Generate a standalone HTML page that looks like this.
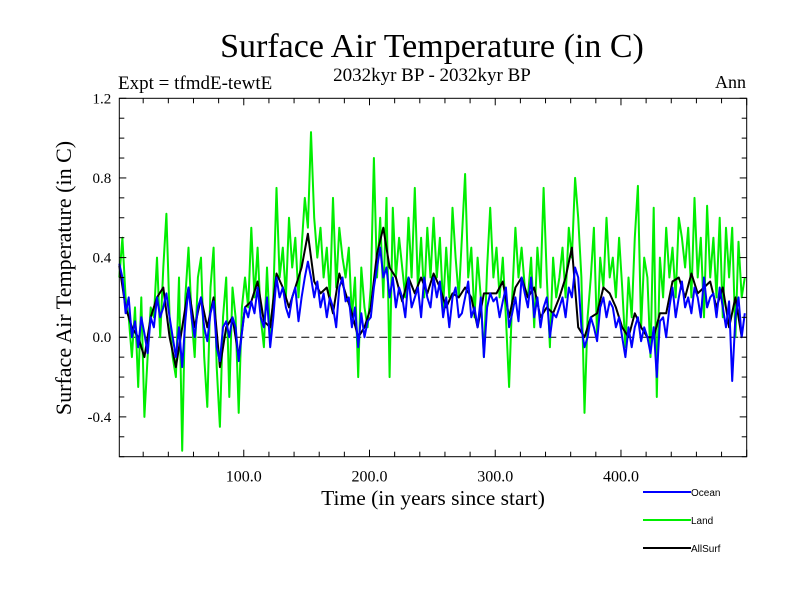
<!DOCTYPE html>
<html><head><meta charset="utf-8"><style>
body{margin:0;background:#fff}
svg text{font-family:"Liberation Serif",serif}
</style></head><body>
<svg id="chart" width="800" height="600" xmlns="http://www.w3.org/2000/svg">
<rect width="800" height="600" fill="#fff"/>
<text x="432" y="57" font-size="34" text-anchor="middle">Surface Air Temperature (in C)</text>
<text x="118" y="89" font-size="19">Expt = tfmdE-tewtE</text>
<text x="432" y="81" font-size="19" text-anchor="middle">2032kyr BP - 2032kyr BP</text>
<text x="746" y="88" font-size="18" text-anchor="end">Ann</text>
<text transform="translate(71,278) rotate(-90)" font-size="22" text-anchor="middle">Surface Air Temperature (in C)</text>
<text x="433" y="505" font-size="21.5" text-anchor="middle">Time (in years since start)</text>
<g id="plot"></g>
<g id="legend"></g>
</svg>
<script>
const landValues=[0.3,0.5,0.2,0.1,-0.1,0.15,-0.25,0.2,-0.4,-0.1,
0.15,0.1,0.4,0.0,0.35,0.62,0.1,-0.1,-0.2,0.3,
-0.57,0.2,0.45,0.1,-0.1,0.3,0.4,-0.1,-0.35,0.25,
0.45,-0.15,-0.45,0.1,0.3,-0.3,0.25,0.1,-0.38,0.15,
0.3,0.15,0.55,0.2,0.45,0.1,-0.05,0.35,0.0,0.2,
0.75,0.3,0.45,0.2,0.6,0.35,0.5,0.2,0.45,0.7,
0.55,1.03,0.6,0.4,0.55,0.3,0.45,0.2,0.7,0.25,
0.55,0.4,0.3,0.45,0.1,0.3,-0.2,0.35,0.15,0.05,
0.25,0.9,0.3,0.6,0.2,0.7,-0.2,0.65,0.3,0.5,
0.35,0.2,0.6,0.3,0.75,0.25,0.5,0.2,0.55,0.3,
0.6,0.3,0.5,0.15,0.45,0.2,0.65,0.4,0.2,0.5,
0.82,0.3,0.45,0.1,0.4,0.2,-0.1,0.35,0.65,0.3,
0.45,0.2,0.4,0.1,-0.25,0.2,0.55,0.3,0.45,0.25,
0.2,0.4,0.05,0.45,0.25,0.75,0.3,-0.05,0.4,0.2,
0.3,0.45,0.2,0.55,0.4,0.8,0.6,0.3,-0.38,0.1,
0.3,0.55,0.0,0.4,0.25,0.6,0.3,0.4,0.2,0.5,
0.25,-0.05,0.3,0.1,0.5,0.76,0.05,0.4,0.3,-0.1,
0.65,-0.3,0.4,0.2,0.55,0.3,0.45,0.2,0.6,0.5,
0.35,0.55,0.2,0.7,0.3,0.5,0.1,0.66,0.3,0.5,
0.2,0.6,0.1,0.55,0.3,0.55,0.0,0.48,0.2,0.3];
const oceanValues=[0.37,0.3,0.12,0.2,0.0,0.08,-0.05,0.1,0.02,-0.08,
0.1,0.05,0.2,0.1,0.15,0.22,0.1,0.0,-0.1,0.05,
-0.15,0.08,0.25,0.1,0.0,0.15,0.2,0.05,-0.02,0.12,
0.18,-0.05,-0.12,0.05,0.08,0.0,0.1,0.05,-0.12,0.02,
0.15,0.1,0.18,0.12,0.25,0.1,0.05,0.2,-0.05,0.1,
0.3,0.2,0.25,0.15,0.1,0.2,0.25,0.08,0.2,0.3,
0.38,0.3,0.2,0.28,0.15,0.22,0.1,0.2,0.15,0.05,
0.25,0.3,0.18,0.2,0.05,0.15,-0.05,0.12,0.0,0.08,
0.1,0.25,0.35,0.45,0.3,0.35,0.2,0.3,0.15,0.25,
0.2,0.1,0.3,0.15,0.2,0.25,0.1,0.3,0.2,0.15,
0.3,0.2,0.28,0.1,0.2,0.05,0.2,0.25,0.1,0.12,
0.2,0.28,0.1,0.15,0.05,0.2,-0.1,0.15,0.22,0.18,
0.2,0.1,0.18,0.25,0.05,0.12,0.2,0.08,0.3,0.22,
0.15,0.3,0.1,0.2,0.05,0.15,0.2,0.0,0.12,0.1,
0.15,0.2,0.1,0.25,0.2,0.35,0.3,0.05,-0.05,0.0,
0.1,0.05,-0.02,0.15,0.2,0.1,0.18,0.15,0.05,0.1,
0.0,-0.1,0.05,-0.05,0.05,0.1,-0.02,0.05,0.0,-0.08,
0.05,-0.2,0.08,0.1,0.0,0.15,0.25,0.1,0.2,0.28,
0.15,0.2,0.12,0.25,0.2,0.1,0.3,0.15,0.2,0.22,
0.1,0.25,0.15,0.05,0.18,-0.22,0.1,0.2,0.0,0.12];
const allSurfValues=[0.36,0.15,0.05,0.0,-0.1,0.1,0.2,0.25,0.0,-0.15,
0.05,0.25,0.05,0.2,0.05,0.2,-0.15,0.05,0.1,-0.1,
0.15,0.18,0.28,0.08,0.05,0.32,0.25,0.15,0.25,0.35,
0.52,0.28,0.22,0.25,0.12,0.32,0.22,0.12,0.0,0.05,
0.15,0.42,0.55,0.35,0.3,0.18,0.3,0.22,0.3,0.22,
0.32,0.25,0.15,0.22,0.2,0.25,0.2,0.05,0.22,0.22,
0.22,0.28,0.1,0.25,0.3,0.2,0.25,0.1,0.15,0.12,
0.2,0.3,0.45,0.05,0.0,0.1,0.12,0.25,0.22,0.15,
0.05,0.0,0.12,0.05,0.0,0.0,0.12,0.12,0.28,0.3,
0.2,0.32,0.22,0.25,0.28,0.15,0.25,0.05,0.2,0.0];
const yTickValues=[-0.4,0.0,0.4,0.8,1.2];
const yTickLabels=["-0.4","0.0","0.4","0.8","1.2"];
const xTickValues=[100,200,300,400];
const xTickLabels=["100.0","200.0","300.0","400.0"];
const legendLabels=["Ocean","Land","AllSurf"];
const legendColors=["#0000ff","#00ee00","#000000"];

const L=119.3,R=746.7,T=98.3,B=456.7,X0=1,X1=500,Y0=-0.6,Y1=1.2;
const sx=v=>L+(v-X0)/(X1-X0)*(R-L);
const sy=v=>B-(v-Y0)/(Y1-Y0)*(B-T);
const NS="http://www.w3.org/2000/svg";
const plot=document.getElementById('plot');
function mk(tag,attrs,parent){const e=document.createElementNS(NS,tag);for(const k in attrs)e.setAttribute(k,attrs[k]);(parent||plot).appendChild(e);return e;}

const z=mk('line',{x1:L,x2:R,y1:sy(0),y2:sy(0),stroke:'#000','stroke-width':1,'stroke-dasharray':'8,5'});



function series(vals,step,color,name){
  const pts=vals.map((v,i)=>sx(Math.min(X1,X0+i*step)).toFixed(1)+','+sy(v).toFixed(1)).join(' ');
  const p=mk('polyline',{points:pts,fill:'none',stroke:color,'stroke-width':2,'stroke-linejoin':'round'});
  
  
}
series(landValues,2.5,'#00ee00','land-line');
series(allSurfValues,5,'#000000','allsurf-line');
series(oceanValues,2.5,'#0000ff','ocean-line');

const fr=mk('rect',{x:L,y:T,width:R-L,height:B-T,fill:'none',stroke:'#000','stroke-width':1});



for(let v=20;v<=X1;v+=20){
  const len=(v%100===0)?7:5;
  mk('line',{x1:sx(v),x2:sx(v),y1:B,y2:B-len,stroke:'#000'});
  mk('line',{x1:sx(v),x2:sx(v),y1:T,y2:T+len,stroke:'#000'});
}
for(let k=-6;k<=12;k++){
  const v=k/10,len=(k%4===0)?7:5;
  mk('line',{x1:L,x2:L+len,y1:sy(v),y2:sy(v),stroke:'#000'});
  mk('line',{x1:R,x2:R-len,y1:sy(v),y2:sy(v),stroke:'#000'});
}
xTickValues.forEach((v,i)=>{
  const t=mk('text',{x:sx(v),y:B+25,'font-size':16,'text-anchor':'middle'});
  t.textContent=xTickLabels[i];
  
  
});
yTickValues.forEach((v,i)=>{
  const t=mk('text',{x:L-8,y:sy(v)+5,'font-size':15,'text-anchor':'end'});
  t.textContent=yTickLabels[i];
  
  
});

const lg=document.getElementById('legend');
legendLabels.forEach((lab,i)=>{
  const y=492+i*28;
  const g=mk('g',{},lg);
  
  
  mk('line',{x1:643,x2:691,y1:y,y2:y,stroke:legendColors[i],'stroke-width':2},g);
  const t=mk('text',{x:691,y:y+4,'font-size':10,style:'font-family:"Liberation Sans",sans-serif'},g);
  t.textContent=lab;
});
</script>
</body></html>
